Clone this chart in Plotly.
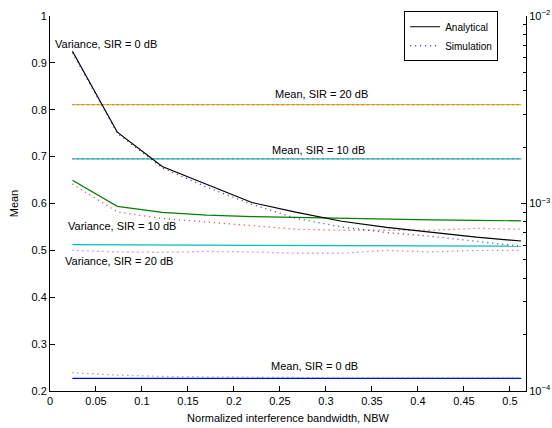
import plotly.graph_objects as go

# Normalized interference bandwidth (x positions of the computed points)
nbw = [0.0244, 0.0732, 0.1220, 0.1707, 0.2195, 0.2683, 0.3171, 0.3659, 0.4146, 0.4634, 0.5122]

# Variance (right, log axis)
var0_ana = [6.49e-3, 2.40e-3, 1.576e-3, 1.259e-3, 1.012e-3, 8.96e-4, 8.04e-4, 7.46e-4, 7.00e-4, 6.61e-4, 6.31e-4]
var0_sim = [6.38e-3, 2.37e-3, 1.55e-3, 1.22e-3, 9.89e-4, 8.32e-4, 7.50e-4, 7.00e-4, 6.68e-4, 6.31e-4, 5.92e-4]
var10_ana = [1.33e-3, 9.66e-4, 8.96e-4, 8.66e-4, 8.51e-4, 8.41e-4, 8.32e-4, 8.22e-4, 8.18e-4, 8.13e-4, 8.08e-4]
var10_sim = [1.27e-3, 9.02e-4, 8.32e-4, 7.94e-4, 7.63e-4, 7.29e-4, 7.20e-4, 7.20e-4, 7.20e-4, 7.37e-4, 7.29e-4]
var20_ana = [6.03e-4, 6.02e-4, 6.01e-4, 6.00e-4, 5.99e-4, 5.98e-4, 5.97e-4, 5.96e-4, 5.95e-4, 5.93e-4, 5.92e-4]
var20_sim = [5.62e-4, 5.52e-4, 5.49e-4, 5.55e-4, 5.52e-4, 5.43e-4, 5.43e-4, 5.62e-4, 5.52e-4, 5.62e-4, 5.62e-4]

# Mean (left axis)
mean20_ana = [0.811] * 11
mean20_sim = [0.811] * 11
mean10_ana = [0.695] * 11
mean10_sim = [0.695] * 11
mean0_ana = [0.227] * 11
mean0_sim = [0.239, 0.234, 0.231, 0.230, 0.229, 0.228, 0.228, 0.228, 0.228, 0.228, 0.228]

x_ticks = [0, 0.05, 0.1, 0.15, 0.2, 0.25, 0.3, 0.35, 0.4, 0.45, 0.5]
x_ticktext = ["0", "0.05", "0.1", "0.15", "0.2", "0.25", "0.3", "0.35", "0.4", "0.45", "0.5"]
y_ticks = [0.2, 0.3, 0.4, 0.5, 0.6, 0.7, 0.8, 0.9, 1.0]
y_ticktext = ["0.2", "0.3", "0.4", "0.5", "0.6", "0.7", "0.8", "0.9", "1"]
y2_ticks = [1e-4, 1e-3, 1e-2]
y2_ticktext = ["10<sup>−4</sup>", "10<sup>−3</sup>", "10<sup>−2</sup>"]
y2_minor = [k * 1e-4 for k in range(2, 10)] + [k * 1e-3 for k in range(2, 10)]

labels = [
    ("Variance, SIR = 0 dB", 0.061, 0.941),
    ("Mean, SIR = 20 dB", 0.2957, 0.834),
    ("Mean, SIR = 10 dB", 0.292, 0.715),
    ("Variance, SIR = 10 dB", 0.0788, 0.551),
    ("Variance, SIR = 20 dB", 0.075, 0.4766),
    ("Mean, SIR = 0 dB", 0.288, 0.2538),
]

DOT = "1px,4px"
FONT = "Liberation Sans, Arial, Helvetica, sans-serif"

fig = go.Figure()

def solid(y, color, axis="y", name=None, show=False):
    fig.add_trace(go.Scatter(x=nbw, y=y, mode="lines", yaxis=axis, name=name, showlegend=show,
                             line=dict(color=color, width=1.2)))

def dotted(y, color, axis="y", name=None, show=False):
    fig.add_trace(go.Scatter(x=nbw, y=y, mode="lines", yaxis=axis, name=name, showlegend=show,
                             line=dict(color=color, width=1.3, dash=DOT), opacity=0.8))

# Means
solid(mean20_ana, "#c8c800")
dotted(mean20_sim, "#ff00ff")
solid(mean10_ana, "#00bfbf")
dotted(mean10_sim, "#ff0000")
solid(mean0_ana, "#0000ff")
dotted(mean0_sim, "#00a000")
# Variances
solid(var20_ana, "#00bfbf", "y2")
dotted(var20_sim, "#ff00ff", "y2")
solid(var10_ana, "#008000", "y2")
dotted(var10_sim, "#ff0000", "y2")
solid(var0_ana, "#000000", "y2", "Analytical", True)
dotted(var0_sim, "#0000ff", "y2", "Simulation", True)

for text, x, y in labels:
    fig.add_annotation(x=x, y=y, xref="x", yref="y", text=text, showarrow=False,
                       font=dict(size=11, color="black"))

axis_common = dict(showgrid=False, zeroline=False, showline=True, linecolor="black", linewidth=1,
                   ticks="inside", tickcolor="black", ticklen=5, automargin=False,
                   tickfont=dict(size=11, color="black", family=FONT))

fig.update_layout(
    width=552, height=428,
    margin=dict(l=50, r=26, t=15, b=37),
    paper_bgcolor="white", plot_bgcolor="white",
    font=dict(family=FONT, size=11, color="black"),
    xaxis=dict(range=[0, 0.5175], tickvals=x_ticks, ticktext=x_ticktext,
               title=dict(text="Normalized interference bandwidth, NBW", font=dict(size=11), standoff=8),
               **axis_common),
    yaxis=dict(range=[0.2, 1.0], tickvals=y_ticks, ticktext=y_ticktext,
               title=dict(text="Mean", font=dict(size=11), standoff=10),
               **axis_common),
    yaxis2=dict(type="log", range=[-4, -2], overlaying="y", side="right",
                tickvals=y2_ticks, ticktext=y2_ticktext,
                minor=dict(tickvals=y2_minor, ticks="inside", ticklen=3, tickcolor="black"),
                **axis_common),
    legend=dict(x=0.744, y=1.01, xanchor="left", yanchor="top", bgcolor="white",
                bordercolor="black", borderwidth=1, font=dict(size=10),
                tracegroupgap=0, itemwidth=30),
)

fig.write_html("out.html")
